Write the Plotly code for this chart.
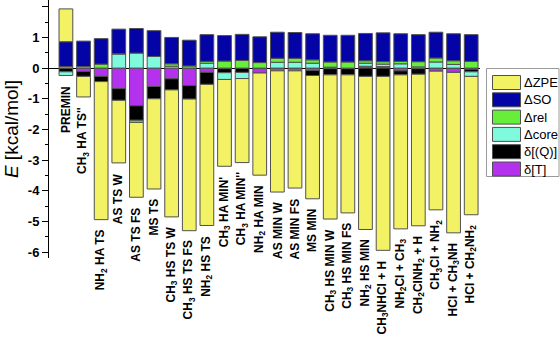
import plotly.graph_objects as go

categories = [
    "PREMIN", "CH<sub>3</sub> HA TS''", "NH<sub>2</sub> HA TS", "AS TS W", "AS TS FS", "MS TS",
    "CH<sub>3</sub> HS TS W", "CH<sub>3</sub> HS TS FS", "NH<sub>2</sub> HS TS",
    "CH<sub>3</sub> HA MIN'", "CH<sub>3</sub> HA MIN''", "NH<sub>2</sub> HA MIN",
    "AS MIN W", "AS MIN FS", "MS MIN",
    "CH<sub>3</sub> HS MIN W", "CH<sub>3</sub> HS MIN FS", "NH<sub>2</sub> HS MIN",
    "CH<sub>3</sub>NHCl + H", "NH<sub>2</sub>Cl + CH<sub>3</sub>", "CH<sub>2</sub>ClNH<sub>2</sub> + H",
    "CH<sub>3</sub>Cl + NH<sub>2</sub>", "HCl + CH<sub>3</sub>NH", "HCl + CH<sub>2</sub>NH<sub>2</sub>",
]

d_T = [0.00, -0.11, -0.27, -0.67, -1.23, -0.60, -0.35, -0.57, -0.14, -0.02, 0.00, -0.16,
       -0.09, -0.09, -0.08, -0.02, -0.02, 0.06, 0.05, -0.09, -0.02, -0.10, -0.14, -0.04]
d_Q = [-0.12, -0.16, -0.17, -0.38, -0.47, -0.40, -0.36, -0.44, -0.39, -0.13, -0.14, 0.00,
       0.00, 0.00, -0.16, -0.20, -0.20, -0.27, -0.27, -0.13, -0.18, 0.00, 0.00, -0.08]
d_core = [-0.12, 0.00, 0.00, 0.46, 0.49, 0.38, 0.06, 0.00, 0.16, -0.22, -0.20, 0.00,
          0.19, 0.19, 0.16, 0.03, 0.00, 0.10, 0.08, 0.14, 0.04, 0.20, 0.12, -0.15]
d_rel = [0.05, 0.05, 0.13, 0.01, -0.07, 0.00, 0.08, 0.07, 0.06, 0.23, 0.25, 0.18,
         0.13, 0.13, 0.11, 0.17, 0.20, 0.08, 0.08, 0.08, 0.17, 0.13, 0.12, 0.22]
d_SO = [0.81, 0.83, 0.83, 0.80, 0.80, 0.84, 0.86, 0.84, 0.87, 0.83, 0.85, 0.84,
        0.85, 0.84, 0.85, 0.87, 0.87, 0.89, 0.94, 0.90, 0.88, 0.84, 0.88, 0.87]
d_ZPE = [1.07, -0.67, -4.50, -2.04, -2.44, -2.94, -4.14, -4.29, -4.60, -2.83, -2.74, -3.33,
         -3.95, -3.82, -4.02, -4.70, -4.50, -4.99, -5.67, -5.02, -4.94, -4.52, -5.23, -4.51]

y_tickvals = [2, 1, 0, -1, -2, -3, -4, -5, -6]
y_ticktext = ["2", "1", "0", "-1", "-2", "-3", "-4", "-5", "-6"]

series = [
    ("\u03b4[T]", d_T, "#B432EE"),
    ("\u03b4[(Q)]", d_Q, "#000000"),
    ("\u0394core", d_core, "#80FADC"),
    ("\u0394rel", d_rel, "#66EE3A"),
    ("\u0394SO", d_SO, "#0303A6"),
    ("\u0394ZPE", d_ZPE, "#F2F264"),
]

xs = list(range(len(categories)))
FONT = "Liberation Sans, Arial, sans-serif"
EDGE = "#505050"

fig = go.Figure()
for name, vals, col in series:
    fig.add_trace(go.Bar(
        x=xs, y=vals, name=name, showlegend=False,
        marker=dict(color=col, line=dict(color=EDGE, width=1)),
        width=0.78,
    ))

# labels under each bar's lowest end
for i, cat in enumerate(categories):
    bottom = sum(min(0, s[1][i]) for s in series)
    fig.add_annotation(
        x=i, y=bottom, xref="x", yref="y", text="<b>" + cat + "</b>",
        textangle=-90, showarrow=False, xanchor="center", yanchor="top",
        yshift=-8, font=dict(family=FONT, size=12, color="black"),
    )

# legend box (paper coordinates, plot area = 431 x 258 px)
W, H = 431.0, 258.0
def px(xp):
    return (xp - 49) / W
def py(yp):
    return 1 - yp / H

fig.add_shape(type="rect", xref="paper", yref="paper",
              x0=px(486.5), x1=px(559), y0=py(176.5), y1=py(68.5),
              line=dict(color="#9a9a9a", width=1), fillcolor="white", layer="above")
for k, (name, vals, col) in enumerate(reversed(series)):
    top = 75.5 + 17.3 * k
    fig.add_shape(type="rect", xref="paper", yref="paper",
                  x0=px(492.5), x1=px(520.5), y0=py(top + 14), y1=py(top),
                  line=dict(color=EDGE, width=1), fillcolor=col, layer="above")
    fig.add_annotation(x=px(522), y=py(top + 7), xref="paper", yref="paper",
                       text=name, showarrow=False, xanchor="left", yanchor="middle",
                       font=dict(family=FONT, size=13, color="black"))

fig.update_layout(
    width=560, height=338,
    margin=dict(l=49, r=80, t=0, b=80),
    barmode="relative",
    paper_bgcolor="white", plot_bgcolor="white",
    font=dict(family=FONT, color="black"),
    showlegend=False,
    xaxis=dict(range=[-0.96, 23.5], showticklabels=False, ticks="",
               showgrid=False, zeroline=False, showline=False, automargin=False),
    yaxis=dict(
        range=[-6.19, 2.22], tickvals=y_tickvals, ticktext=y_ticktext, automargin=False,
        ticks="outside", ticklen=6, tickwidth=1, tickcolor="black",
        minor=dict(dtick=0.5, ticks="outside", ticklen=3, tickcolor="black"),
        showgrid=False, showline=True, linecolor="black", linewidth=1,
        zeroline=True, zerolinecolor="black", zerolinewidth=1,
        tickfont=dict(family=FONT, size=13, color="black", weight="bold"),
        title=dict(text="<i>E</i> [kcal/mol]", font=dict(family=FONT, size=19, color="black"),
                   standoff=4),
    ),
)

fig.write_html("out.html", config={"displayModeBar": False},
               post_script="document.body.style.margin='0px';document.body.style.overflow='hidden';")
